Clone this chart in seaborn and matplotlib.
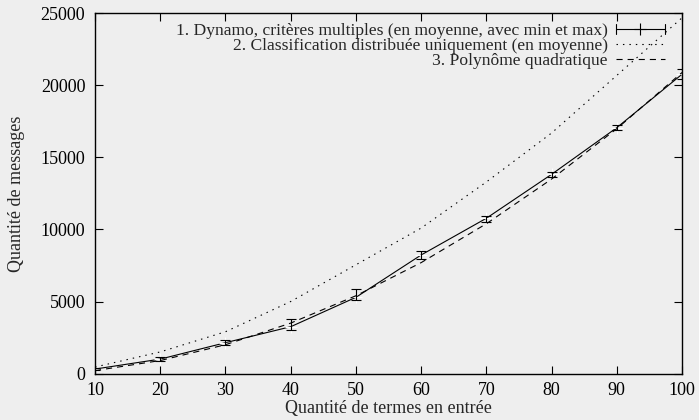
import numpy as np
import pandas as pd
import matplotlib
matplotlib.use("Agg")
import matplotlib.pyplot as plt
import seaborn as sns
from matplotlib.lines import Line2D
from matplotlib.legend_handler import HandlerBase

# ---- data ----
terms = [10, 20, 30, 40, 50, 60, 70, 80, 90, 100]
dynamo_mean = [310, 1000, 2140, 3250, 5290, 8230, 10780, 13830, 17070, 20780]
dynamo_min = [240, 900, 2000, 3050, 5100, 7930, 10550, 13620, 16900, 20430]
dynamo_max = [380, 1150, 2300, 3780, 5850, 8500, 10950, 14000, 17250, 21120]
classif_mean = [450, 1500, 2900, 5000, 7550, 10100, 13300, 16700, 20700, 24700]
quad_fit = [200, 900, 2000, 3500, 5400, 7700, 10400, 13500, 17000, 20900]

labels = [
    "1. Dynamo, critères multiples (en moyenne, avec min et max)",
    "2. Classification distribuée uniquement (en moyenne)",
    "3. Polynôme quadratique",
]
xlabel = "Quantité de termes en entrée"
ylabel = "Quantité de messages"
xticks = [10, 20, 30, 40, 50, 60, 70, 80, 90, 100]
yticks = [0, 5000, 10000, 15000, 20000, 25000]

# long table: min / mean / max per x -> median with 0-100 percentile interval
rows = []
for t, lo, m, hi in zip(terms, dynamo_min, dynamo_mean, dynamo_max):
    for v in (lo, m, hi):
        rows.append({"terms": t, "messages": v})
df_dyn = pd.DataFrame(rows)
df_cls = pd.DataFrame({"terms": terms, "messages": classif_mean})
df_quad = pd.DataFrame({"terms": terms, "messages": quad_fit})

sns.set_style("ticks")
bg = "#eeeeee"
plt.rcParams["font.family"] = ["Liberation Serif", "DejaVu Serif"]
plt.rcParams["figure.facecolor"] = bg
plt.rcParams["axes.facecolor"] = bg
plt.rcParams["savefig.facecolor"] = bg

fs = 13
fig = plt.figure(figsize=(6.99, 4.2), dpi=100)
ax = fig.add_axes([0.136, 0.1107, 0.8397, 0.8572])

lw = 0.8
sns.lineplot(data=df_dyn, x="terms", y="messages", estimator="median",
             errorbar=("pi", 100), err_style="bars",
             err_kws=dict(capsize=3.3, elinewidth=lw, capthick=lw),
             color="black", lw=lw, marker="+", markersize=8,
             markeredgewidth=lw, ax=ax)
sns.lineplot(data=df_cls, x="terms", y="messages", color="black", lw=lw,
             linestyle=(0, (1.3, 4.5)), ax=ax)
sns.lineplot(data=df_quad, x="terms", y="messages", color="black", lw=lw,
             linestyle=(0, (5.5, 4.5)), ax=ax)

ax.set_xlim(10, 100)
ax.set_ylim(0, 25000)
ax.set_xticks(xticks)
ax.set_yticks(yticks)
ax.tick_params(axis="both", which="both", direction="in", length=6,
               width=0.8, top=True, right=True, labelsize=fs, colors="black")
ax.tick_params(axis="x", pad=6)
ax.tick_params(axis="y", pad=7)
for s in ax.spines.values():
    s.set_visible(True)
    s.set_linewidth(1.0)
    s.set_color("black")
ax.set_xlabel(xlabel, fontsize=fs, labelpad=1)
ax.set_ylabel(ylabel, fontsize=fs, labelpad=11)


class ErrHandler(HandlerBase):
    def create_artists(self, legend, orig_handle, xdescent, ydescent,
                       width, height, fontsize, trans):
        y = height / 2 - ydescent
        x0 = -xdescent
        x1 = x0 + width
        h = 3.5
        arts = [
            Line2D([x0, x1], [y, y], color="black", lw=lw),
            Line2D([x0, x0], [y - h, y + h], color="black", lw=lw),
            Line2D([x1, x1], [y - h, y + h], color="black", lw=lw),
            Line2D([(x0 + x1) / 2], [y], marker="+", ms=8, mew=lw,
                   color="black", ls=""),
        ]
        for a in arts:
            a.set_transform(trans)
        return arts


lfs = 12.6
err_proxy = Line2D([], [], color="black")
h_dot = Line2D([], [], color="black", lw=lw, linestyle=(0, (1.3, 4.5)))
h_dash = Line2D([], [], color="black", lw=lw, linestyle=(0, (5.5, 4.5)))
ax.legend(handles=[err_proxy, h_dot, h_dash], labels=labels,
          handler_map={err_proxy: ErrHandler()},
          loc="upper right", bbox_to_anchor=(0.971, 0.974), frameon=False,
          markerfirst=False, fontsize=lfs, labelspacing=-0.08,
          handlelength=2.8, handletextpad=0.47, borderpad=0,
          borderaxespad=0)

fig.savefig("out.png", dpi=100)
